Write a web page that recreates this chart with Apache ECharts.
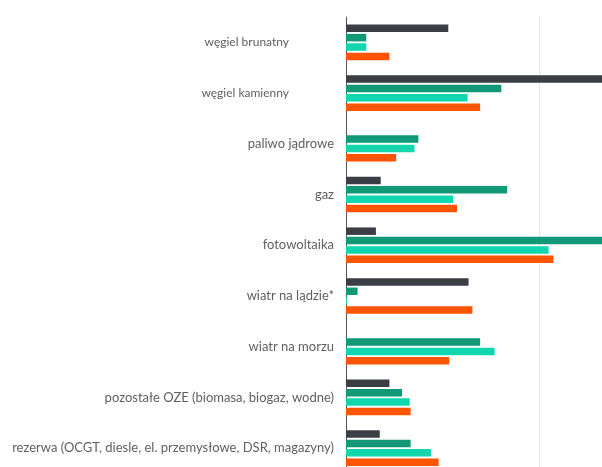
<!DOCTYPE html>
<html><head><meta charset="utf-8">
<script src="https://cdn.jsdelivr.net/npm/echarts@6/dist/echarts.min.js"></script>
<style>html,body{margin:0;padding:0;background:#fff}#c{width:602px;height:467px}</style>
</head><body><div id="c"></div>
<script>
const categories = ['węgiel brunatny','węgiel kamienny','paliwo jądrowe','gaz','fotowoltaika','wiatr na lądzie*','wiatr na morzu','pozostałe OZE (biomasa, biogaz, wodne)','rezerwa (OCGT, diesle, el. przemysłowe, DSR, magazyny)'];
const seriesA = [10.6, 30, 0, 3.6, 3.1, 12.7, 0, 4.5, 3.5];
const seriesB = [2.1, 16.1, 7.5, 16.7, 28, 1.2, 13.9, 5.8, 6.7];
const seriesC = [2.1, 12.6, 7.1, 11.1, 21.0, 0.1, 15.4, 6.6, 8.8];
const seriesD = [4.5, 13.9, 5.2, 11.5, 21.5, 13.1, 10.7, 6.7, 9.6];
const colors = ['#3b3e45', '#119977', '#12d6ad', '#ff5500'];
const chart = echarts.init(document.getElementById('c'));
const mk = (d, i) => ({type:'bar', data:d, barWidth:7.5, barGap:'25%', itemStyle:{color:colors[i]}, silent:true});
chart.setOption({
  animation:false,
  grid:{left:346, top:17, width:386, height:456.5, containLabel:false, outerBoundsMode:'none'},
  xAxis:{type:'value', min:0, max:40, interval:20, axisLabel:{show:false}, axisLine:{show:false}, axisTick:{show:false},
    splitLine:{show:true, lineStyle:{color:'#e6e6e6', width:1}}},
  yAxis:{type:'category', data:categories, inverse:true,
    axisLine:{show:true, lineStyle:{color:'#555', width:1}}, axisTick:{show:false},
    axisLabel:{margin:12, color:'#606060', fontSize:13, fontFamily:'Lato',
      formatter: v => v.startsWith('węgiel') ? '{p|' + v + '}' : v,
      rich:{p:{padding:[0,45,0,0], color:'#606060', fontSize:12, fontFamily:'Lato'}}}},
  series:[mk(seriesA,0), mk(seriesB,1), mk(seriesC,2), mk(seriesD,3)]
});
</script></body></html>
